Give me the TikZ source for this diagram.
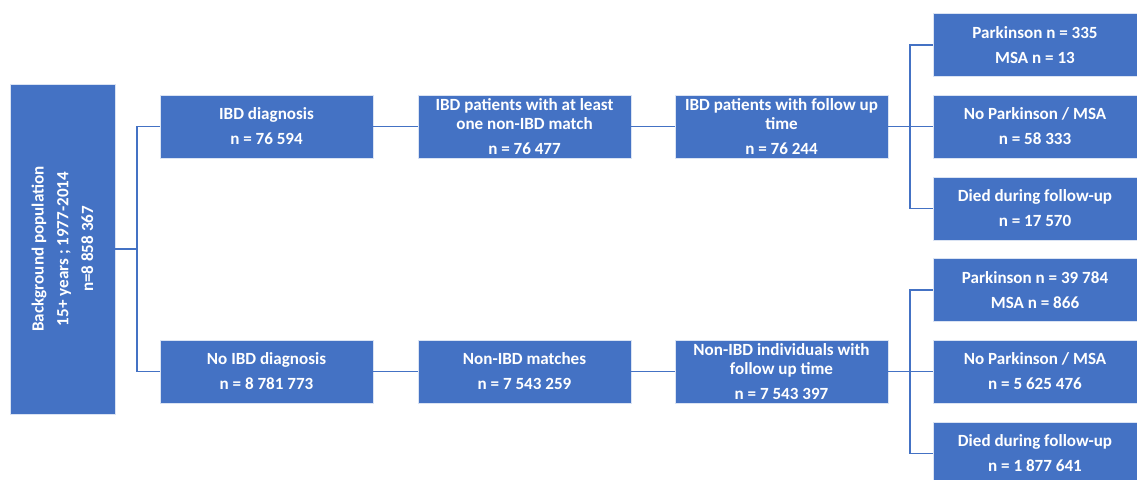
\documentclass[tikz,border=0pt]{standalone}
\usepackage{fontspec}
\setmainfont{Carlito}
\usepackage{tikz}
\definecolor{boxblue}{HTML}{4472C4}
\tikzset{
    box/.style={rectangle, fill=boxblue, draw=white!80!boxblue, line width=0.6pt,
        text=white, align=center, inner sep=0pt,
        minimum width=213*0.75pt, minimum height=63*0.75pt,
        font=\bfseries\fontsize{12.8}{14.3}\selectfont},
    outbox/.style={box, minimum width=204*0.75pt},
    link/.style={draw=boxblue, line width=1.1pt}
}

\begin{document}
\begin{tikzpicture}[x=0.75pt, y=-0.75pt]
        % page frame
        \clip (0,0) rectangle (1137,479);
        \useasboundingbox (0,0) rectangle (1137,479);

        % background population
        \node[box, rotate=90, minimum width=330*0.75pt, minimum height=105*0.75pt] (bg) at (62.5,249)
            {Background population\\[4.3pt] 15+ years ; 1977-2014\\[4.3pt] n=8 858 367};

        % IBD row
        \node[box] (ibd) at (266.5,126.5) {IBD diagnosis\\[4.5pt] n = 76 594};
        \node[box] (ibdm) at (524.5,126.5) {IBD patients with at least\\ one non-IBD match\\[4.5pt] n = 76 477};
        \node[box] (ibdfu) at (781.5,126.5) {IBD patients with follow up\\ time\\[4.5pt] n = 76 244};

        % non-IBD row
        \node[box] (nibd) at (266.5,371.5) {No IBD diagnosis\\[4.5pt] n = 8 781 773};
        \node[box] (nm) at (524.5,371.5) {Non-IBD matches\\[4.5pt] n = 7 543 259};
        \node[box] (nfu) at (781.5,371.5) {Non-IBD individuals with\\ follow up time\\[4.5pt] n = 7 543 397};

        % outcomes
        \node[outbox] (ipd) at (1035,45) {Parkinson n = 335\\[4.5pt] MSA n = 13};
        \node[outbox] (ino) at (1035,126.5) {No Parkinson / MSA\\[4.5pt] n = 58 333};
        \node[outbox] (idied) at (1035,208.5) {Died during follow-up\\[4.5pt] n = 17 570};
        \node[outbox] (npd) at (1035,290) {Parkinson n = 39 784\\[4.5pt] MSA n = 866};
        \node[outbox] (nno) at (1035,371.5) {No Parkinson / MSA\\[4.5pt] n = 5 625 476};
        \node[outbox] (ndied) at (1035,453.5) {Died during follow-up\\[4.5pt] n = 1 877 641};

        % split points
        \coordinate (split) at (137,249);
        \coordinate (ifork) at (910,126.5);
        \coordinate (nfork) at (910,371.5);

        % connectors
        \draw[link] (bg.south) -- (split);
        \draw[link] (split) |- (ibd.west);
        \draw[link] (split) |- (nibd.west);
        \draw[link] (ibd) -- (ibdm);
        \draw[link] (ibdm) -- (ibdfu);
        \draw[link] (nibd) -- (nm);
        \draw[link] (nm) -- (nfu);
        \draw[link] (ibdfu.east) -- (ifork);
        \draw[link] (nfu.east) -- (nfork);
        \foreach \o in {ipd,ino,idied}
            \draw[link] (ifork) |- (\o.west);
        \foreach \o in {npd,nno,ndied}
            \draw[link] (nfork) |- (\o.west);
    \end{tikzpicture}
\end{document}
